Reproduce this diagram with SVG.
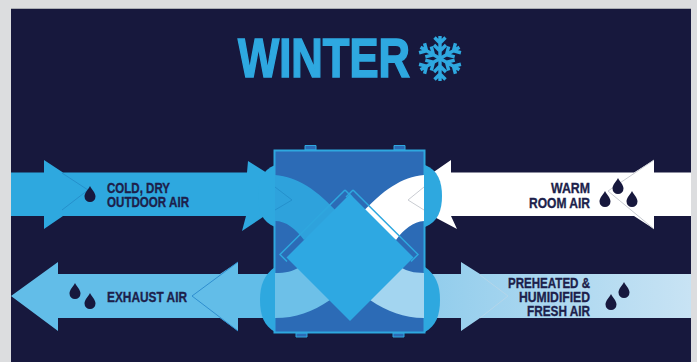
<svg xmlns="http://www.w3.org/2000/svg" width="697" height="362" viewBox="0 0 697 362">
<style>
.lbl{font-family:"Liberation Sans Narrow","Liberation Sans",Arial,sans-serif;font-weight:700;font-size:15px;fill:#1d1f4b;stroke:#1d1f4b;stroke-width:.35}
.title{font-family:"Liberation Sans Narrow","Liberation Sans",Arial,sans-serif;font-weight:700;font-size:55px;fill:#2ea8e0;stroke:#2ea8e0;stroke-width:1.6}
.blue{fill:#2ea8df}.lite{fill:#62bde8}.white{fill:#fff}
.fold{fill:none;stroke-width:1}
.drop{fill:#17183d}
.side{fill:#2ea8df}
</style>
<defs>
<linearGradient id="fresh" gradientUnits="userSpaceOnUse" x1="430" x2="691" y1="0" y2="0"><stop offset="0" stop-color="#92cdec"/><stop offset="1" stop-color="#c8e3f4"/></linearGradient>
<path id="d" d="M0-8C1.500-4.500 5.500-1.500 5.500 2.500A5.500 5.500 0 0 1-5.500 2.500C-5.500-1.500-1.500-4.500 0-8Z"/>
<g id="arm" fill="none" stroke="#2ea8e0" stroke-width="3.400">
<path d="M0 0V-22.500M-5.500-21L0-15.500L5.500-21M-6-13.500L0-7.500L6-13.500"/>
</g>
<clipPath id="outL"><rect x="0" y="0" width="275" height="362"/></clipPath>
<clipPath id="outR"><rect x="425" y="0" width="272" height="362"/></clipPath>
<clipPath id="box"><rect x="275" y="151" width="149" height="181"/></clipPath>
</defs>
<rect width="697" height="362" fill="#dcdddf"/>
<rect x="11" y="8.500" width="680" height="354" fill="#17183d"/>
<path d="M11 8.500H691" stroke="#a9acb3" stroke-width="1" fill="none"/>
<g id="title">
<text class="title" x="238" y="77" textLength="172" lengthAdjust="spacingAndGlyphs">WINTER</text>
</g>
<g id="snowflake">
<g transform="translate(440 58.500)">
<use href="#arm"/><use href="#arm" transform="rotate(60)"/><use href="#arm" transform="rotate(120)"/><use href="#arm" transform="rotate(180)"/><use href="#arm" transform="rotate(240)"/><use href="#arm" transform="rotate(300)"/>
</g>
</g>
<g id="connectors">
<path class="blue" d="M11 172.500H44V160L63 172.500H247L248 161L275 178V209L242 231L246 216H63L44 229V216H11Z"/>
<path class="lite" d="M11 296L58 262V274H220L238 262V274H276V318H238V331L220 318H58V331Z"/>
<path class="white" d="M691 172.500H654V160L634 172.500H451V160L425 178V212L457 229L451 216H634L654 229V216H691Z"/>
<path fill="url(#fresh)" d="M691 274H480L461 262V274H425V318H461V331L480 318H691Z"/>
<path class="fold" stroke="#2590cc" d="M62 173L88 190L62 210"/>
<path class="fold" stroke="#2f8fd0" d="M238 262L192 296L238 331"/>
<path class="fold" stroke="#c9ccd2" d="M654 160L608 191L654 229"/>
<path class="fold" stroke="#b4d6ea" d="M480 275L508 296L480 318"/>
<path class="side" clip-path="url(#outL)" d="M275 165C262 170 258 182 258 196C258 210 262 222 275 227Z"/>
<path class="side" clip-path="url(#outR)" d="M425 165C438 170 442 182 442 196C442 210 438 222 425 227Z"/>
<path class="side" clip-path="url(#outL)" d="M275 267C264 275 260 285 260 300C260 315 264 326 275 332Z"/>
<path class="side" clip-path="url(#outR)" d="M425 267C436 275 440 285 440 300C440 315 436 326 425 332Z"/>
</g>
<g id="unit">
<path d="M305 150V145.500H316V150ZM394 150V145.500H405V150ZM296 333V337H307V333ZM393 333V337H404V333Z" fill="#2c6bb6" stroke="#2ea8df" stroke-width="1"/>
<rect x="274.500" y="150.500" width="150" height="182" fill="#2c6bb6" stroke="#2ea8df" stroke-width="2"/>
<g clip-path="url(#box)">
<path fill="#2ea2dc" d="M275 175C298 177 316 189 340 215L304 240C296 229 286 221 275 221Z"/>
<path fill="#fff" d="M425 175C402 177 384 189 360 215L396 240C404 229 414 221 425 221Z"/>
<path fill="#6dc0e8" d="M275 273C286 273 293 271 298 268L330 300C312 312 296 318 275 318Z"/>
<path fill="#a3d5f0" d="M425 273C414 273 407 271 402 268L370 300C388 312 404 318 425 318Z"/>
<path class="fold" stroke="#2590cc" d="M275 187L292 200L275 210"/>
<path class="fold" stroke="#c9ccd2" d="M424 187L408 200L424 210"/>
</g>
<path fill="none" stroke="#2ea8df" stroke-width="1.500" d="M345 190L280 254.500L287 261.500M345 190L352 197M353 190L418 254.500L411 261.500M353 190L346 197"/>
<path fill="#2ea8e2" d="M350 194L413.500 257.500L350 321L286.500 257.500Z"/>
</g>
<g id="label-outdoor">
<text class="lbl" x="107" y="193" textLength="63" lengthAdjust="spacingAndGlyphs">COLD, DRY</text>
<text class="lbl" x="107" y="206.500" textLength="82" lengthAdjust="spacingAndGlyphs">OUTDOOR AIR</text>
<use class="drop" href="#d" x="90" y="194"/>
</g>
<g id="label-exhaust">
<text class="lbl" x="107" y="302" textLength="80" lengthAdjust="spacingAndGlyphs">EXHAUST AIR</text>
<use class="drop" href="#d" x="75" y="291"/>
<use class="drop" href="#d" x="90" y="301"/>
</g>
<g id="label-room">
<text class="lbl" x="590" y="193" text-anchor="end" textLength="39" lengthAdjust="spacingAndGlyphs">WARM</text>
<text class="lbl" x="590" y="207.500" text-anchor="end" textLength="61" lengthAdjust="spacingAndGlyphs">ROOM AIR</text>
<use class="drop" href="#d" x="618" y="186"/>
<use class="drop" href="#d" x="605" y="199"/>
<use class="drop" href="#d" x="632" y="199"/>
</g>
<g id="label-fresh">
<text class="lbl" x="590" y="288" text-anchor="end" textLength="82" lengthAdjust="spacingAndGlyphs">PREHEATED &amp;</text>
<text class="lbl" x="590" y="302" text-anchor="end" textLength="71" lengthAdjust="spacingAndGlyphs">HUMIDIFIED</text>
<text class="lbl" x="590" y="316" text-anchor="end" textLength="63" lengthAdjust="spacingAndGlyphs">FRESH AIR</text>
<use class="drop" href="#d" x="624" y="290"/>
<use class="drop" href="#d" x="611" y="302"/>
</g>
</svg>
